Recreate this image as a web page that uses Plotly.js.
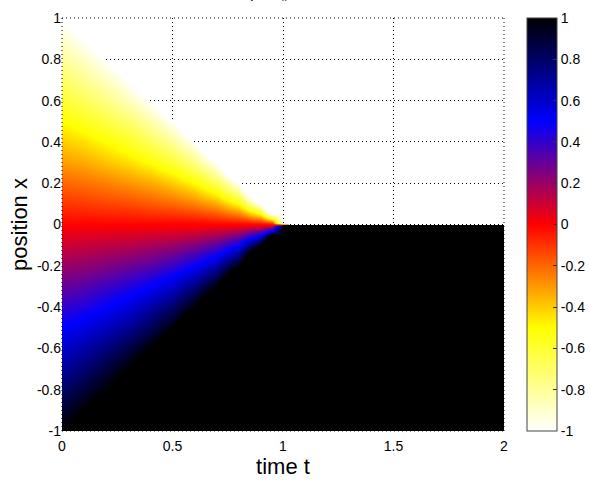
<!DOCTYPE html>
<html>
<head>
<meta charset="utf-8">
<script src="https://cdn.plot.ly/plotly-3.0.1.min.js"></script>
<style>html,body{margin:0;padding:0;background:#fff;}#chart{width:590px;height:486px;}</style>
</head>
<body>
<div id="chart"></div>
<script>
// Fan region (0 <= t <= 1): time samples (columns) and position samples (rows)
var timeT = [0, 0.1, 0.2, 0.3, 0.4, 0.5, 0.6, 0.7, 0.8, 0.9, 0.95, 1];
var positionX = [-1, -0.9, -0.8, -0.7, -0.6, -0.5, -0.4, -0.3, -0.2, -0.1, -0.005,
                 0.005, 0.1, 0.2, 0.3, 0.4, 0.5, 0.6, 0.7, 0.8, 0.9, 1];
// u(t, x), one row per position; values beyond +-1 just outside the fan
// are saturated (drawn as plain black / blank) by the colour scale
var uValues = [
  [1, 1.11, 1, 1, 1, 1, 1, 1, 1, 1, 1, 1],
  [0.9, 1, 1.13, 1, 1, 1, 1, 1, 1, 1, 1, 1],
  [0.8, 0.89, 1, 1.14, 1, 1, 1, 1, 1, 1, 1, 1],
  [0.7, 0.78, 0.88, 1, 1.17, 1, 1, 1, 1, 1, 1, 1],
  [0.6, 0.67, 0.75, 0.86, 1, 1.2, 1, 1, 1, 1, 1, 1],
  [0.5, 0.56, 0.63, 0.71, 0.83, 1, 1.25, 1, 1, 1, 1, 1],
  [0.4, 0.44, 0.5, 0.57, 0.67, 0.8, 1, 1.33, 1, 1, 1, 1],
  [0.3, 0.33, 0.38, 0.43, 0.5, 0.6, 0.75, 1, 1.5, 1, 1, 1],
  [0.2, 0.22, 0.25, 0.29, 0.33, 0.4, 0.5, 0.67, 1, 2, 1, 1],
  [0.1, 0.11, 0.13, 0.14, 0.17, 0.2, 0.25, 0.33, 0.5, 1, 2, 1],
  [0.01, 0.01, 0.01, 0.01, 0.01, 0.01, 0.01, 0.02, 0.03, 0.05, 0.1, 1],
  [-0.01, -0.01, -0.01, -0.01, -0.01, -0.01, -0.01, -0.02, -0.03, -0.05, -0.1, -1],
  [-0.1, -0.11, -0.13, -0.14, -0.17, -0.2, -0.25, -0.33, -0.5, -1, -2, -1],
  [-0.2, -0.22, -0.25, -0.29, -0.33, -0.4, -0.5, -0.67, -1, -2, -1, -1],
  [-0.3, -0.33, -0.38, -0.43, -0.5, -0.6, -0.75, -1, -1.5, -1, -1, -1],
  [-0.4, -0.44, -0.5, -0.57, -0.67, -0.8, -1, -1.33, -1, -1, -1, -1],
  [-0.5, -0.56, -0.63, -0.71, -0.83, -1, -1.25, -1, -1, -1, -1, -1],
  [-0.6, -0.67, -0.75, -0.86, -1, -1.2, -1, -1, -1, -1, -1, -1],
  [-0.7, -0.78, -0.88, -1, -1.17, -1, -1, -1, -1, -1, -1, -1],
  [-0.8, -0.89, -1, -1.14, -1, -1, -1, -1, -1, -1, -1, -1],
  [-0.9, -1, -1.13, -1, -1, -1, -1, -1, -1, -1, -1, -1],
  [-1, -1.11, -1, -1, -1, -1, -1, -1, -1, -1, -1, -1]
];
// After the shock forms (1 <= t <= 2): cell edges and values
var shockTimeEdges = [1, 2];
var shockPositionEdges = [-1, 0, 1];
var shockValues = [[1], [-1]];

var xTickVals = [0, 0.5, 1, 1.5, 2];
var xTickText = ['0', '0.5', '1', '1.5', '2'];
var yTickVals = [-1, -0.8, -0.6, -0.4, -0.2, 0, 0.2, 0.4, 0.6, 0.8, 1];
var yTickText = ['-1', '-0.8', '-0.6', '-0.4', '-0.2', '0', '0.2', '0.4', '0.6', '0.8', '1'];
var titleText = 'u<sub>t</sub> + uu<sub>x</sub> = 0';

var FONT = 'Liberation Sans, Arial, Helvetica, sans-serif';

var colorscale = [
  [0, 'rgba(255,255,255,0)'],
  [0.0005, 'rgb(255,255,255)'],
  [0.25, 'rgb(255,255,0)'],
  [0.5, 'rgb(255,0,0)'],
  [0.75, 'rgb(0,0,255)'],
  [1, 'rgb(0,0,0)']
];

var fanTrace = {
  type: 'heatmap',
  x: timeT,
  y: positionX,
  z: uValues,
  zsmooth: 'best',
  zmin: -1,
  zmax: 1,
  colorscale: colorscale,
  hoverinfo: 'skip',
  colorbar: {
    x: 1.052, xanchor: 'left', xpad: 0,
    y: 0.5, yanchor: 'middle', ypad: 0,
    len: 1, lenmode: 'fraction',
    thickness: 30,
    outlinewidth: 1, outlinecolor: '#444',
    tickvals: yTickVals, ticktext: yTickText,
    ticks: 'inside', ticklen: 4, tickcolor: '#333',
    tickfont: {family: FONT, size: 14, color: '#000'}
  }
};

var shockTrace = {
  type: 'heatmap',
  x: shockTimeEdges,
  y: shockPositionEdges,
  z: shockValues,
  zsmooth: false,
  zmin: -1,
  zmax: 1,
  colorscale: colorscale,
  showscale: false,
  hoverinfo: 'skip'
};

var gridStyle = {
  showgrid: true, gridcolor: '#000', gridwidth: 1, griddash: '1px,3px',
  zeroline: false, showline: false, ticks: ''
};

var borderLine = {color: '#000', width: 1, dash: '1px,3px'};

var layout = {
  width: 590, height: 486,
  margin: {l: 62, r: 86, t: 18, b: 55, autoexpand: false},
  paper_bgcolor: '#fff', plot_bgcolor: '#fff',
  font: {family: FONT, color: '#000'},
  showlegend: false,
  xaxis: Object.assign({}, gridStyle, {
    range: [0, 2], tickvals: xTickVals, ticktext: xTickText,
    ticklabelstandoff: 5,
    tickfont: {family: FONT, size: 14, color: '#000'},
    title: {text: 'time t', font: {family: FONT, size: 22, color: '#000'}, standoff: 3}
  }),
  yaxis: Object.assign({}, gridStyle, {
    range: [-1, 1], tickvals: yTickVals, ticktext: yTickText,
    tickfont: {family: FONT, size: 14, color: '#000'},
    title: {text: 'position x', font: {family: FONT, size: 22, color: '#000'}, standoff: 3}
  }),
  shapes: [
    {type: 'line', xref: 'paper', yref: 'paper', x0: 0, x1: 1, y0: 1, y1: 1, line: borderLine, layer: 'above'},
    {type: 'line', xref: 'paper', yref: 'paper', x0: 0, x1: 1, y0: 0, y1: 0, line: borderLine, layer: 'above'},
    {type: 'line', xref: 'paper', yref: 'paper', x0: 0, x1: 0, y0: 0, y1: 1, line: borderLine, layer: 'above'},
    {type: 'line', xref: 'paper', yref: 'paper', x0: 1, x1: 1, y0: 0, y1: 1, line: borderLine, layer: 'above'}
  ],
  annotations: [{
    text: titleText, xref: 'paper', yref: 'paper', x: 0.5, y: 1,
    xanchor: 'center', yanchor: 'bottom', yshift: 13, xshift: -7, showarrow: false,
    font: {family: FONT, size: 13, color: '#000'}
  }]
};

Plotly.newPlot('chart', [fanTrace, shockTrace], layout, {displayModeBar: false, staticPlot: true});
</script>
</body>
</html>
